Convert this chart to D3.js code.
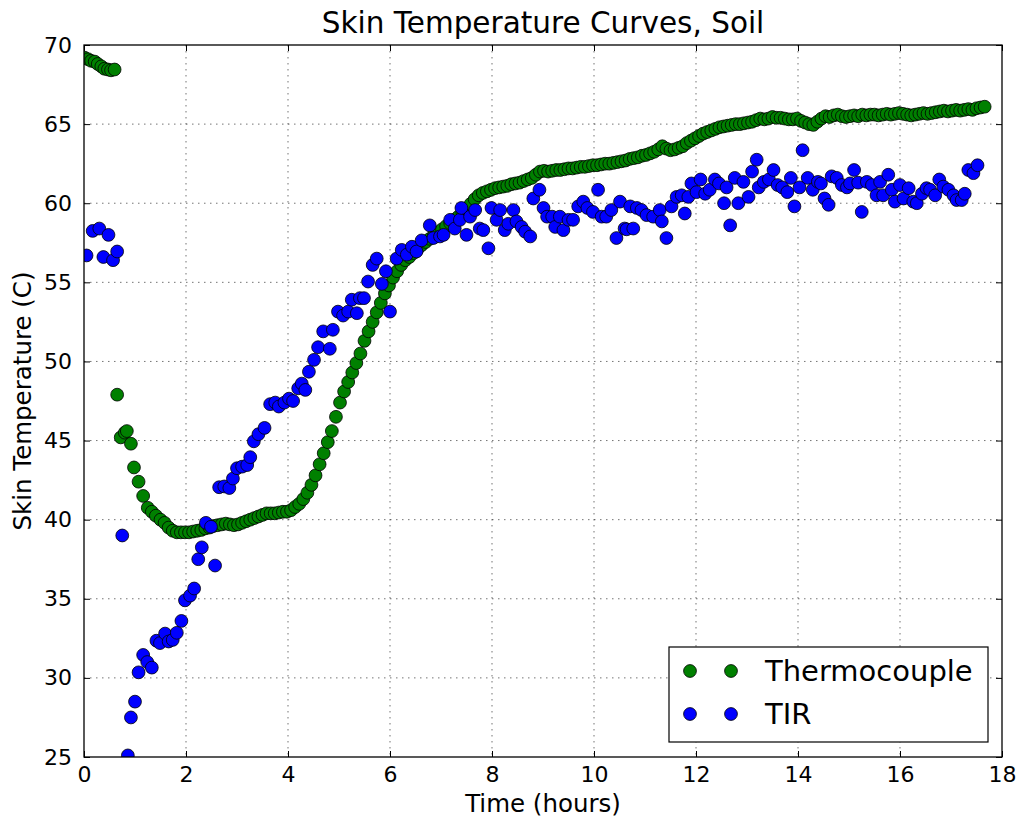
<!DOCTYPE html>
<html>
<head>
<meta charset="utf-8">
<script src="https://cdn.jsdelivr.net/npm/d3@7"></script>
<style>
  html, body { margin: 0; padding: 0; background: #fff; }
  svg { display: block; font-family: "DejaVu Sans", sans-serif; }
</style>
</head>
<body>
<svg id="chart" width="1019" height="820"></svg>
<script>
// Thermocouple readings: [time (hours), skin temperature (C)]
const thermocouple = [
  [0.01,69.2],[0.08,69.1],[0.14,69.0],[0.21,68.95],[0.27,68.8],[0.34,68.65],[0.4,68.5],[0.47,68.45],[0.53,68.4],[0.6,68.45],
  [0.65,47.9],[0.72,45.2],[0.8,45.5],[0.84,45.6],[0.92,44.8],[0.98,43.3],[1.07,42.4],[1.16,41.5],[1.25,40.75],[1.33,40.5],
  [1.41,40.25],[1.5,40.0],[1.58,39.8],[1.66,39.5],[1.74,39.3],[1.82,39.2],[1.9,39.2],[1.98,39.2],[2.06,39.2],[2.14,39.25],
  [2.22,39.3],[2.3,39.35],[2.38,39.45],[2.46,39.5],[2.54,39.6],[2.62,39.65],[2.7,39.7],[2.78,39.75],[2.86,39.7],[2.94,39.65],
  [3.02,39.7],[3.1,39.8],[3.18,39.9],[3.26,40.0],[3.34,40.1],[3.42,40.2],[3.5,40.3],[3.58,40.4],[3.66,40.4],[3.74,40.4],
  [3.82,40.45],[3.9,40.5],[3.98,40.5],[4.06,40.6],[4.14,40.8],[4.22,41.0],[4.3,41.3],[4.38,41.7],[4.46,42.2],[4.54,42.8],
  [4.62,43.5],[4.7,44.2],[4.78,44.9],[4.86,45.6],[4.94,46.5],[5.02,47.4],[5.1,48.1],[5.18,48.7],[5.26,49.3],[5.34,49.9],
  [5.42,50.5],[5.5,51.3],[5.58,51.9],[5.66,52.5],[5.74,53.1],[5.82,53.7],[5.9,54.3],[5.98,54.8],[6.06,55.3],[6.14,55.7],
  [6.22,56.1],[6.3,56.4],[6.38,56.6],[6.46,56.85],[6.54,57.1],[6.62,57.35],[6.7,57.55],[6.78,57.75],[6.86,57.95],[6.94,58.15],
  [7.02,58.35],[7.1,58.55],[7.18,58.75],[7.26,58.95],[7.34,59.15],[7.42,59.4],[7.5,59.65],[7.58,59.95],[7.66,60.25],[7.74,60.5],
  [7.82,60.65],[7.9,60.75],[7.98,60.85],[8.06,60.95],[8.14,61.0],[8.22,61.05],[8.3,61.1],[8.38,61.2],[8.46,61.25],[8.54,61.3],
  [8.62,61.4],[8.7,61.5],[8.78,61.6],[8.86,61.8],[8.94,62.0],[9.02,62.05],[9.1,62.0],[9.18,62.05],[9.26,62.1],[9.34,62.1],
  [9.42,62.15],[9.5,62.2],[9.58,62.2],[9.66,62.25],[9.74,62.3],[9.82,62.3],[9.9,62.35],[9.98,62.4],[10.06,62.4],[10.14,62.45],
  [10.22,62.5],[10.3,62.5],[10.38,62.55],[10.46,62.6],[10.54,62.65],[10.62,62.7],[10.7,62.8],[10.78,62.85],[10.86,62.9],[10.94,63.0],
  [11.02,63.05],[11.1,63.15],[11.18,63.25],[11.26,63.4],[11.34,63.6],[11.42,63.45],[11.5,63.35],[11.58,63.4],[11.66,63.5],[11.74,63.6],
  [11.82,63.8],[11.9,63.95],[11.98,64.1],[12.06,64.25],[12.14,64.4],[12.22,64.5],[12.3,64.6],[12.38,64.7],[12.46,64.8],[12.54,64.85],
  [12.62,64.9],[12.7,64.95],[12.78,65.0],[12.86,65.0],[12.94,65.05],[13.02,65.1],[13.1,65.15],[13.18,65.25],[13.26,65.35],[13.34,65.3],
  [13.42,65.35],[13.5,65.45],[13.58,65.4],[13.66,65.4],[13.74,65.35],[13.82,65.3],[13.9,65.3],[13.98,65.35],[14.06,65.2],[14.14,65.1],
  [14.22,65.0],[14.3,64.95],[14.38,65.15],[14.46,65.35],[14.54,65.5],[14.62,65.45],[14.7,65.55],[14.78,65.6],[14.86,65.5],[14.94,65.45],
  [15.02,65.5],[15.1,65.55],[15.18,65.5],[15.26,65.6],[15.34,65.55],[15.42,65.6],[15.5,65.6],[15.58,65.55],[15.66,65.6],[15.74,65.65],
  [15.82,65.6],[15.9,65.65],[15.98,65.7],[16.06,65.65],[16.14,65.6],[16.22,65.55],[16.3,65.6],[16.38,65.65],[16.46,65.7],[16.54,65.65],
  [16.62,65.7],[16.7,65.75],[16.78,65.8],[16.86,65.85],[16.94,65.8],[17.02,65.85],[17.1,65.9],[17.18,65.85],[17.26,65.9],[17.34,65.95],
  [17.42,65.9],[17.5,66.0],[17.58,66.05],[17.66,66.1]
];

// Thermal infrared (TIR) readings: [time (hours), skin temperature (C)]
const tir = [
  [0.05,56.7],[0.17,58.25],[0.3,58.4],[0.38,56.6],[0.48,58.0],[0.57,56.4],[0.65,56.95],
  [0.75,39.0],[0.86,25.1],[0.92,27.5],[1.0,28.5],[1.07,30.35],[1.16,31.45],[1.24,31.0],[1.33,30.65],[1.42,32.35],
  [1.49,32.2],[1.59,32.8],[1.66,32.3],[1.74,32.4],[1.82,32.85],[1.91,33.6],[1.98,34.9],[2.08,35.2],[2.16,35.65],
  [2.24,37.5],[2.31,38.25],[2.39,39.8],[2.49,39.55],[2.57,37.1],
  [2.65,42.05],[2.75,42.1],[2.85,42.0],[2.92,42.6],[3.0,43.25],[3.1,43.35],[3.2,43.45],[3.26,43.95],[3.33,44.95],
  [3.42,45.4],[3.54,45.8],[3.65,47.3],[3.75,47.4],[3.82,47.15],[3.93,47.4],[4.02,47.65],[4.1,47.5],[4.2,48.3],
  [4.27,48.6],[4.34,48.2],[4.41,49.35],[4.51,50.1],[4.59,50.9],[4.69,51.9],[4.82,50.8],[4.88,52.0],[4.98,53.15],
  [5.08,52.9],[5.18,53.15],[5.25,53.9],[5.35,53.05],[5.41,54.0],[5.49,54.0],[5.57,55.05],[5.66,56.1],[5.74,56.5],
  [5.84,54.9],[5.92,55.7],[6.0,53.15],[6.13,56.5],[6.23,57.05],[6.33,56.75],[6.43,57.25],[6.52,56.95],[6.62,57.65],
  [6.78,58.6],[6.85,57.8],[6.98,57.9],[7.05,58.0],[7.18,58.95],[7.27,58.4],[7.37,58.95],[7.4,59.7],[7.5,58.0],
  [7.57,59.15],[7.67,59.57],[7.76,58.4],[7.83,58.3],[7.93,57.15],[7.99,59.7],[8.09,58.95],[8.16,59.57],[8.25,58.3],
  [8.32,58.7],[8.42,59.57],[8.48,58.85],[8.58,58.5],[8.65,58.2],[8.75,57.9],[8.81,60.3],[8.93,60.85],[9.01,59.7],
  [9.08,59.15],[9.18,59.15],[9.24,58.5],[9.33,59.15],[9.4,58.3],[9.5,58.95],[9.59,58.95],[9.69,59.8],[9.79,60.1],
  [9.87,59.7],[9.98,59.45],[10.08,60.85],[10.15,59.15],[10.24,59.15],[10.34,59.57],[10.44,57.8],[10.51,60.1],[10.6,58.4],
  [10.64,58.35],[10.71,59.8],[10.77,58.4],[10.84,59.7],[10.93,59.57],[11.03,59.25],[11.16,59.15],[11.29,59.57],[11.33,58.85],
  [11.42,57.8],[11.52,59.8],[11.62,60.4],[11.72,60.5],[11.78,59.35],[11.85,60.4],[11.91,61.25],[12.01,60.7],[12.09,61.5],
  [12.18,60.6],[12.27,60.85],[12.37,61.5],[12.45,61.25],[12.55,60.0],[12.6,61.0],[12.67,58.6],[12.76,61.6],[12.83,60.0],
  [12.93,61.35],[13.03,60.4],[13.1,62.0],[13.19,62.75],[13.23,61.0],[13.33,61.35],[13.43,61.5],[13.52,62.1],[13.6,61.15],
  [13.69,61.0],[13.79,60.7],[13.86,61.6],[13.93,59.8],[14.03,61.0],[14.09,63.35],[14.19,61.6],[14.29,60.85],[14.39,61.35],
  [14.45,61.25],[14.52,60.3],[14.6,59.9],[14.66,61.7],[14.76,61.6],[14.86,61.15],[14.96,61.0],[15.02,61.25],[15.1,62.1],
  [15.18,61.3],[15.25,59.45],[15.35,61.35],[15.45,61.15],[15.54,60.5],[15.61,61.35],[15.67,60.5],[15.77,61.8],[15.84,60.85],
  [15.9,60.1],[16.0,61.15],[16.07,60.3],[16.17,60.95],[16.26,60.1],[16.33,60.0],[16.43,60.6],[16.52,60.95],[16.59,60.85],
  [16.69,60.5],[16.77,61.5],[16.85,61.05],[16.95,60.85],[17.05,60.5],[17.11,60.2],[17.21,60.2],[17.27,60.6],[17.34,62.1],
  [17.44,61.9],[17.52,62.4]
];

const xTicks = [0, 2, 4, 6, 8, 10, 12, 14, 16, 18];
const yTicks = [25, 30, 35, 40, 45, 50, 55, 60, 65, 70];
const seriesNames = ["Thermocouple", "TIR"];
const seriesColors = ["#008000", "#0000ff"];

const svg = d3.select("#chart");
const margin = { left: 84, right: 1002, top: 45, bottom: 757 };

const x = d3.scaleLinear().domain([0, 18]).range([margin.left, margin.right]);
const y = d3.scaleLinear().domain([25, 70]).range([margin.bottom, margin.top]);

// dotted grid
const grid = svg.append("g").attr("stroke", "#000").attr("stroke-width", 1)
  .attr("stroke-dasharray", "1.5,4.5").attr("stroke-opacity", 0.55);
grid.selectAll("line.gx").data(xTicks.slice(1, -1)).join("line")
  .attr("x1", d => x(d)).attr("x2", d => x(d))
  .attr("y1", margin.top).attr("y2", margin.bottom);
grid.selectAll("line.gy").data(yTicks.slice(1, -1)).join("line")
  .attr("y1", d => y(d)).attr("y2", d => y(d))
  .attr("x1", margin.left).attr("x2", margin.right);

// data points
svg.append("clipPath").attr("id", "plotclip").append("rect")
  .attr("x", margin.left).attr("y", margin.top)
  .attr("width", margin.right - margin.left).attr("height", margin.bottom - margin.top);

const pts = svg.append("g").attr("clip-path", "url(#plotclip)");
[thermocouple, tir].forEach((data, i) => {
  pts.append("g").selectAll("circle").data(data).join("circle")
    .attr("cx", d => x(d[0])).attr("cy", d => y(d[1]))
    .attr("r", 6.4)
    .attr("fill", seriesColors[i]).attr("stroke", "#000").attr("stroke-width", 0.8);
});

// axes: ticks pointing inward on all four sides
const tickLen = 6;
const bottomAxis = d3.axisBottom(x).tickValues(xTicks).tickSize(-tickLen).tickPadding(9).tickFormat(d3.format("d"));
const leftAxis = d3.axisLeft(y).tickValues(yTicks).tickSize(-tickLen).tickPadding(12).tickFormat(d3.format("d"));
const topAxis = d3.axisTop(x).tickValues(xTicks).tickSize(-tickLen).tickFormat("");
const rightAxis = d3.axisRight(y).tickValues(yTicks).tickSize(-tickLen).tickFormat("");

function styleAxis(g) {
  g.select(".domain").remove();
  g.selectAll(".tick line").attr("stroke", "#000").attr("stroke-width", 1);
  g.selectAll(".tick text").attr("fill", "#000").style("font-size", "22px")
    .style("font-family", "'DejaVu Sans', sans-serif");
}
svg.append("g").attr("transform", `translate(0,${margin.bottom})`).call(bottomAxis).call(styleAxis);
svg.append("g").attr("transform", `translate(${margin.left},0)`).call(leftAxis).call(styleAxis);
svg.append("g").attr("transform", `translate(0,${margin.top})`).call(topAxis).call(styleAxis);
svg.append("g").attr("transform", `translate(${margin.right},0)`).call(rightAxis).call(styleAxis);

// frame
svg.append("rect").attr("x", margin.left).attr("y", margin.top)
  .attr("width", margin.right - margin.left).attr("height", margin.bottom - margin.top)
  .attr("fill", "none").attr("stroke", "#000").attr("stroke-width", 1.3);

// title and axis labels
svg.append("text").attr("x", (margin.left + margin.right) / 2).attr("y", 33)
  .attr("text-anchor", "middle").style("font-size", "29.5px").text("Skin Temperature Curves, Soil");
svg.append("text").attr("x", (margin.left + margin.right) / 2).attr("y", 812)
  .attr("text-anchor", "middle").style("font-size", "24.5px").text("Time (hours)");
svg.append("text").attr("transform", `translate(31,${(margin.top + margin.bottom) / 2}) rotate(-90)`)
  .attr("text-anchor", "middle").style("font-size", "24.5px").text("Skin Temperature (C)");

// legend
const legend = svg.append("g");
legend.append("rect").attr("x", 669).attr("y", 647).attr("width", 319).attr("height", 95)
  .attr("fill", "#fff").attr("stroke", "#000").attr("stroke-width", 1.2);
seriesNames.forEach((name, i) => {
  const cy = 671 + i * 43;
  [690, 731].forEach(cx => {
    legend.append("circle").attr("cx", cx).attr("cy", cy).attr("r", 6.4)
      .attr("fill", seriesColors[i]).attr("stroke", "#000").attr("stroke-width", 0.8);
  });
  legend.append("text").attr("x", 765).attr("y", cy + 10)
    .style("font-size", "29px").text(name);
});
</script>
</body>
</html>
